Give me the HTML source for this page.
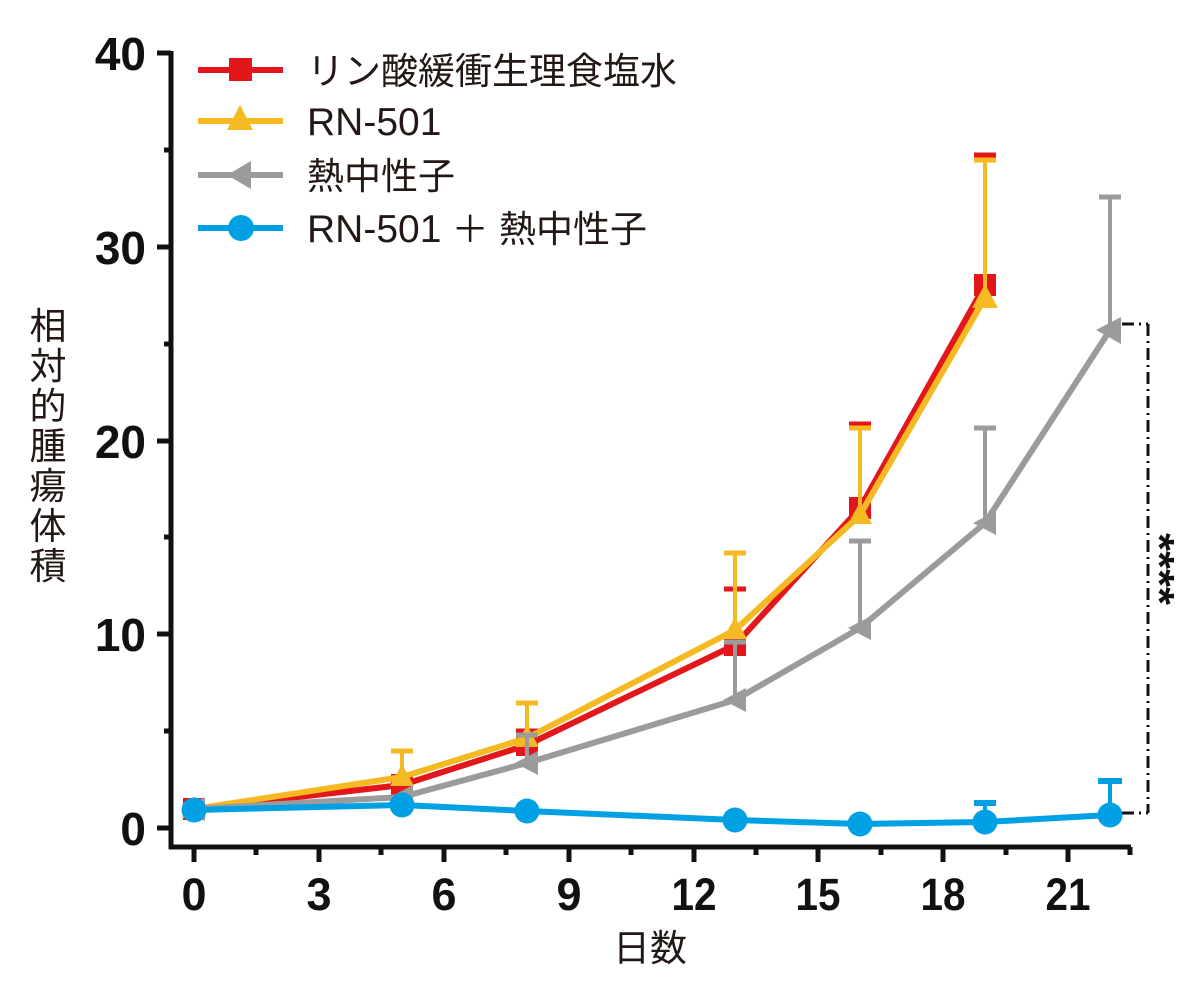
<!DOCTYPE html>
<html><head><meta charset="utf-8">
<style>
html,body{margin:0;padding:0;background:#fff;}
svg{display:block;}
.lab{font-family:"Liberation Sans",Arial,sans-serif;font-weight:bold;fill:#111;}
.jp{font-family:"Liberation Sans","Noto Sans CJK JP",sans-serif;fill:#231815;}
</style></head>
<body>
<svg width="1200" height="996" viewBox="0 0 1200 996" xmlns="http://www.w3.org/2000/svg">
<rect width="1200" height="996" fill="#fff"/>

<!-- axes -->
<g stroke="#111" stroke-width="5" fill="none">
  <line x1="171" y1="51" x2="171" y2="849"/>
  <line x1="169" y1="847" x2="1131" y2="847"/>
  <line x1="157" y1="53" x2="171" y2="53"/>
  <line x1="157" y1="247" x2="171" y2="247"/>
  <line x1="157" y1="441" x2="171" y2="441"/>
  <line x1="157" y1="634" x2="171" y2="634"/>
  <line x1="157" y1="828" x2="171" y2="828"/>
  <line x1="164" y1="150" x2="171" y2="150"/>
  <line x1="164" y1="344" x2="171" y2="344"/>
  <line x1="164" y1="537" x2="171" y2="537"/>
  <line x1="164" y1="731" x2="171" y2="731"/>
  <line x1="194" y1="847" x2="194" y2="862"/>
  <line x1="319" y1="847" x2="319" y2="862"/>
  <line x1="444" y1="847" x2="444" y2="862"/>
  <line x1="569" y1="847" x2="569" y2="862"/>
  <line x1="694" y1="847" x2="694" y2="862"/>
  <line x1="818" y1="847" x2="818" y2="862"/>
  <line x1="943" y1="847" x2="943" y2="862"/>
  <line x1="1068" y1="847" x2="1068" y2="862"/>
  <line x1="256" y1="847" x2="256" y2="855"/>
  <line x1="381" y1="847" x2="381" y2="855"/>
  <line x1="506" y1="847" x2="506" y2="855"/>
  <line x1="631" y1="847" x2="631" y2="855"/>
  <line x1="756" y1="847" x2="756" y2="855"/>
  <line x1="881" y1="847" x2="881" y2="855"/>
  <line x1="1006" y1="847" x2="1006" y2="855"/>
  <line x1="1130" y1="847" x2="1130" y2="855"/>
</g>

<!-- y labels -->
<g class="lab" font-size="46" text-anchor="end">
  <text x="146" y="70">40</text>
  <text x="146" y="264">30</text>
  <text x="146" y="458">20</text>
  <text x="146" y="651">10</text>
  <text x="146" y="845">0</text>
</g>
<!-- x labels -->
<g class="lab" font-size="45" text-anchor="middle">
  <text x="194" y="910">0</text>
  <text x="319" y="910">3</text>
  <text x="444" y="910">6</text>
  <text x="569" y="910">9</text>
  <text x="694" y="910" textLength="45" lengthAdjust="spacingAndGlyphs">12</text>
  <text x="818" y="910" textLength="45" lengthAdjust="spacingAndGlyphs">15</text>
  <text x="943" y="910" textLength="45" lengthAdjust="spacingAndGlyphs">18</text>
  <text x="1068" y="910" textLength="45" lengthAdjust="spacingAndGlyphs">21</text>
</g>

<!-- axis titles -->
<g class="jp" font-size="37" text-anchor="middle">
  <text x="48" y="339">相</text>
  <text x="48" y="379">対</text>
  <text x="48" y="419">的</text>
  <text x="48" y="459">腫</text>
  <text x="48" y="499">瘍</text>
  <text x="48" y="539">体</text>
  <text x="48" y="579">積</text>
  <text x="650" y="961">日数</text>
</g>

<!-- significance bracket -->
<g stroke="#111" stroke-width="3" fill="none" stroke-dasharray="12,5,2,5">
  <line x1="1122" y1="324" x2="1148" y2="324"/>
  <line x1="1148" y1="324" x2="1148" y2="813"/>
  <line x1="1122" y1="813" x2="1148" y2="813"/>
</g>
<text class="lab" font-size="42" transform="translate(1145,533) rotate(90)" textLength="72" lengthAdjust="spacingAndGlyphs">****</text>

<!-- RED series -->
<g stroke="#e2161b" fill="none">
  <g stroke-width="4">
    <line x1="527" y1="745" x2="527" y2="731"/>
    <line x1="735" y1="645" x2="735" y2="589"/>
    <line x1="860" y1="508" x2="860" y2="424"/>
    <line x1="985" y1="285" x2="985" y2="155"/>
  </g>
  <g stroke-width="5">
    <line x1="516" y1="731" x2="538" y2="731"/>
    <line x1="724" y1="589" x2="746" y2="589"/>
    <line x1="849" y1="424" x2="871" y2="424"/>
    <line x1="974" y1="155" x2="996" y2="155"/>
  </g>
  <polyline stroke-width="6" stroke-linejoin="round" points="194,809 402,785 527,745 735,645 860,508 985,285"/>
</g>
<g fill="#e2161b">
  <rect x="183" y="798" width="22" height="22"/>
  <rect x="391" y="774" width="22" height="22"/>
  <rect x="516" y="734" width="22" height="22"/>
  <rect x="724" y="634" width="22" height="22"/>
  <rect x="849" y="497" width="22" height="22"/>
  <rect x="974" y="274" width="22" height="22"/>
</g>

<!-- YELLOW series -->
<g stroke="#f5b921" fill="none">
  <g stroke-width="4">
    <line x1="402" y1="777" x2="402" y2="751"/>
    <line x1="527" y1="738" x2="527" y2="703"/>
    <line x1="735" y1="630" x2="735" y2="553"/>
    <line x1="860" y1="515" x2="860" y2="428"/>
    <line x1="985" y1="298" x2="985" y2="160"/>
  </g>
  <g stroke-width="5">
    <line x1="391" y1="751" x2="413" y2="751"/>
    <line x1="516" y1="703" x2="538" y2="703"/>
    <line x1="724" y1="553" x2="746" y2="553"/>
    <line x1="849" y1="428" x2="871" y2="428"/>
    <line x1="974" y1="160" x2="996" y2="160"/>
  </g>
  <polyline stroke-width="6" stroke-linejoin="round" points="194,809 402,777 527,738 735,630 860,515 985,298"/>
</g>
<g fill="#f5b921">
  <polygon points="194,796 182,818 206,818"/>
  <polygon points="402,764 390,786 414,786"/>
  <polygon points="527,725 515,747 539,747"/>
  <polygon points="735,617 723,639 747,639"/>
  <polygon points="860,502 848,524 872,524"/>
  <polygon points="985,284 972,308 998,308"/>
</g>

<!-- GRAY series -->
<g stroke="#9b9b9b" fill="none">
  <g stroke-width="4">
    <line x1="527" y1="763" x2="527" y2="735"/>
    <line x1="735" y1="700" x2="735" y2="642"/>
    <line x1="860" y1="628" x2="860" y2="541"/>
    <line x1="985" y1="523" x2="985" y2="428"/>
    <line x1="1110" y1="330" x2="1110" y2="197"/>
  </g>
  <g stroke-width="5">
    <line x1="516" y1="735" x2="538" y2="735"/>
    <line x1="724" y1="642" x2="746" y2="642"/>
    <line x1="849" y1="541" x2="871" y2="541"/>
    <line x1="974" y1="428" x2="996" y2="428"/>
    <line x1="1099" y1="197" x2="1121" y2="197"/>
  </g>
  <polyline stroke-width="6" stroke-linejoin="round" points="194,809 402,797 527,763 735,700 860,628 985,523 1110,330"/>
</g>
<g fill="#9b9b9b">
  <polygon points="182,809 205,797 205,821"/>
  <polygon points="390,797 413,785 413,809"/>
  <polygon points="515,763 538,751 538,775"/>
  <polygon points="723,700 746,688 746,712"/>
  <polygon points="848,628 871,616 871,640"/>
  <polygon points="973,523 996,511 996,535"/>
  <polygon points="1096,330 1121,317 1121,344"/>
</g>

<!-- BLUE series -->
<g stroke="#00a0e4" fill="none">
  <g stroke-width="4">
    <line x1="985" y1="822" x2="985" y2="803"/>
    <line x1="1110" y1="815" x2="1110" y2="781"/>
  </g>
  <g stroke-width="6">
    <line x1="974" y1="803" x2="996" y2="803"/>
    <line x1="1098" y1="781" x2="1122" y2="781"/>
  </g>
  <polyline stroke-width="6" stroke-linejoin="round" points="194,810 402,805 527,811 735,820 860,824 985,822 1110,815"/>
</g>
<g fill="#00a0e4">
  <circle cx="194" cy="810" r="12.5"/>
  <circle cx="402" cy="805" r="12.5"/>
  <circle cx="527" cy="811" r="12.5"/>
  <circle cx="735" cy="820" r="12.5"/>
  <circle cx="860" cy="824" r="12.5"/>
  <circle cx="985" cy="822" r="12.5"/>
  <circle cx="1110" cy="815" r="12.5"/>
</g>

<!-- legend -->
<g stroke-width="6">
  <line x1="198" y1="70" x2="283" y2="70" stroke="#e2161b"/>
  <line x1="198" y1="121" x2="283" y2="121" stroke="#f5b921"/>
  <line x1="198" y1="175" x2="283" y2="175" stroke="#9b9b9b"/>
  <line x1="198" y1="228" x2="283" y2="228" stroke="#00a0e4"/>
</g>
<rect x="229" y="58" width="23" height="23" fill="#e2161b"/>
<polygon points="240,105 227,130 253,130" fill="#f5b921"/>
<polygon points="227,175 251,161 251,189" fill="#9b9b9b"/>
<circle cx="241" cy="228" r="13" fill="#00a0e4"/>
<g class="jp" font-size="37">
  <text x="307" y="84">リン酸緩衝生理食塩水</text>
  <text x="307" y="135" font-size="39">RN-501</text>
  <text x="307" y="189">熱中性子</text>
  <text x="307" y="242"><tspan font-size="39">RN-501</tspan> ＋ 熱中性子</text>
</g>
</svg>
</body></html>
